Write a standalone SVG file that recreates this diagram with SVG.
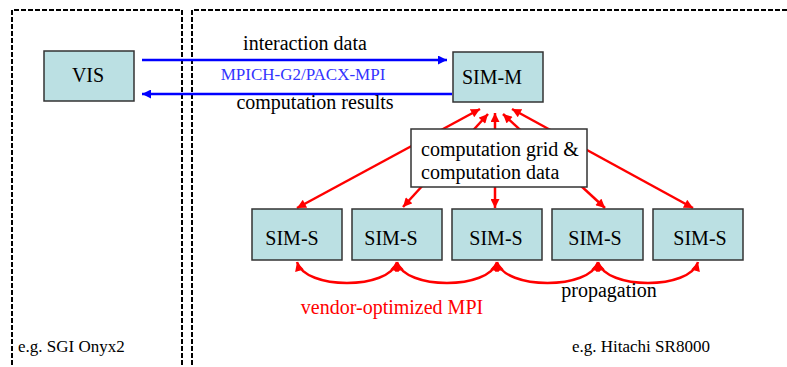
<svg xmlns="http://www.w3.org/2000/svg" width="787" height="367" viewBox="0 0 787 367">
  <defs>
    <marker id="head-red" viewBox="0 0 10 10" refX="10" refY="5" markerWidth="10" markerHeight="9" markerUnits="userSpaceOnUse" orient="auto-start-reverse">
      <path d="M0,0 L10,5 L0,10 Z" fill="#ff0000"/>
    </marker>
    <marker id="head-blue" viewBox="0 0 10 10" refX="10" refY="5" markerWidth="9" markerHeight="9" markerUnits="userSpaceOnUse" orient="auto-start-reverse">
      <path d="M0,0 L10,5 L0,10 Z" fill="#0000ff"/>
    </marker>
  </defs>
  <style>
    .frame { fill: none; stroke: #000; stroke-width: 2; stroke-dasharray: 5 2; }
    .node rect { fill: #bbe0e3; stroke: #333; stroke-width: 1.5; }
    text { font-family: 'Liberation Serif', 'DejaVu Serif', serif; font-size: 20px; }
    .small { font-size: 17px; }
    .mid { text-anchor: middle; }
    .blue { stroke: #0000ff; stroke-width: 2.5; fill: none; }
    .red { stroke: #ff0000; stroke-width: 2.5; fill: none; }
  </style>
  <rect width="787" height="367" fill="#fff"/>

  <!-- machine boundaries -->
  <g id="frames">
    <path class="frame" d="M12,372 L12,10 L182,10 L182,372"/>
    <path class="frame" d="M192,372 L192,10 L792,10"/>
  </g>

  <!-- connectors -->
  <g id="connectors">
    <line class="blue" x1="142" y1="60" x2="447" y2="60" marker-end="url(#head-blue)"/>
    <line class="blue" x1="452" y1="94" x2="142" y2="94" marker-end="url(#head-blue)"/>

    <line class="red" x1="297" y1="208" x2="480" y2="109" marker-start="url(#head-red)" marker-end="url(#head-red)"/>
    <line class="red" x1="403" y1="207" x2="488" y2="114" marker-start="url(#head-red)" marker-end="url(#head-red)"/>
    <line class="red" x1="495" y1="208" x2="495" y2="113" marker-start="url(#head-red)" marker-end="url(#head-red)"/>
    <line class="red" x1="605" y1="208" x2="503" y2="114" marker-start="url(#head-red)" marker-end="url(#head-red)"/>
    <line class="red" x1="693" y1="208" x2="512" y2="109" marker-start="url(#head-red)" marker-end="url(#head-red)"/>

    <path class="red" d="M297,262 C305,290 389,290 397,262" marker-start="url(#head-red)" marker-end="url(#head-red)"/>
    <path class="red" d="M397,262 C405,290 489,290 497,262" marker-start="url(#head-red)" marker-end="url(#head-red)"/>
    <path class="red" d="M497,262 C505,290 590,290 598,262" marker-start="url(#head-red)" marker-end="url(#head-red)"/>
    <path class="red" d="M598,262 C606,290 690,290 698,262" marker-start="url(#head-red)" marker-end="url(#head-red)"/>
  </g>

  <!-- connector labels -->
  <g id="labels" font-family="Liberation Serif, serif">
    <text class="mid" x="305" y="50" fill="#000">interaction data</text>
    <text class="small mid" x="303" y="80" fill="#3333ff">MPICH-G2/PACX-MPI</text>
    <text class="mid" x="315" y="109" fill="#000">computation results</text>
    <text class="mid" x="392" y="314" fill="#ff0000">vendor-optimized MPI</text>
    <text class="mid" x="609" y="297" fill="#000">propagation</text>
    <text class="small" x="18" y="352" fill="#000">e.g. SGI Onyx2</text>
    <text class="small" x="572" y="352" fill="#000">e.g. Hitachi SR8000</text>
  </g>

  <g id="vis" class="node">
    <rect x="44" y="51" width="90" height="50"/>
    <text class="mid" x="88" y="82">VIS</text>
  </g>

  <g id="sim-m" class="node">
    <rect x="453" y="52" width="90" height="50"/>
    <text class="mid" x="492" y="84">SIM-M</text>
  </g>

  <g id="grid">
    <rect x="411" y="129" width="176" height="58" fill="#fff" stroke="#333" stroke-width="1.5"/>
    <text x="421" y="156">computation grid &amp;</text>
    <text x="421" y="179">computation data</text>
  </g>

  <g id="sim-s1" class="node">
    <rect x="252" y="209" width="90" height="51"/>
    <text class="mid" x="292" y="245">SIM-S</text>
  </g>
  <g id="sim-s2" class="node">
    <rect x="352" y="209" width="90" height="51"/>
    <text class="mid" x="391" y="245">SIM-S</text>
  </g>
  <g id="sim-s3" class="node">
    <rect x="452" y="209" width="90" height="51"/>
    <text class="mid" x="496" y="245">SIM-S</text>
  </g>
  <g id="sim-s4" class="node">
    <rect x="552" y="209" width="91" height="51"/>
    <text class="mid" x="595" y="245">SIM-S</text>
  </g>
  <g id="sim-s5" class="node">
    <rect x="653" y="209" width="90" height="51"/>
    <text class="mid" x="700" y="245">SIM-S</text>
  </g>
</svg>
